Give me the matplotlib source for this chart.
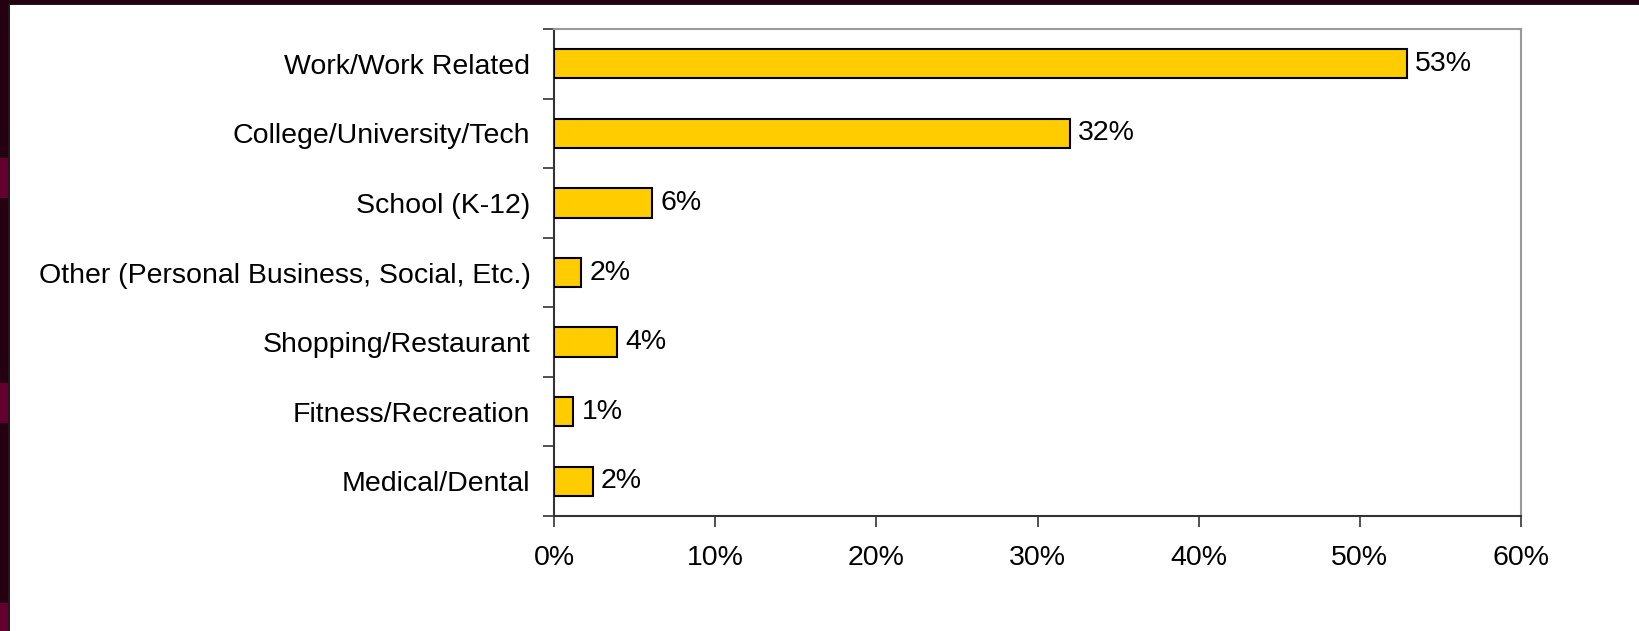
import matplotlib.pyplot as plt
from matplotlib.patches import Rectangle
from matplotlib.ticker import FuncFormatter, FixedLocator

categories = ['Work/Work Related', 'College/University/Tech', 'School (K-12)',
              'Other (Personal Business, Social, Etc.)', 'Shopping/Restaurant',
              'Fitness/Recreation', 'Medical/Dental']
values = [52.9, 32.0, 6.1, 1.7, 3.9, 1.2, 2.4]
labels = ['53%', '32%', '6%', '2%', '4%', '1%', '2%']

plt.rcParams['font.family'] = ['Liberation Sans', 'DejaVu Sans']

W, H = 1640, 631
fig = plt.figure(figsize=(W / 100, H / 100), dpi=100)
fig.patch.set_facecolor('#240010')

# white slide panel and decorative strip
fig.patches.append(Rectangle((8 / W, 0), 1, (H - 4) / H, transform=fig.transFigure,
                             facecolor='#1c1c1c', edgecolor='none', zorder=-10))
fig.patches.append(Rectangle((10 / W, 0), 1, (H - 5) / H, transform=fig.transFigure,
                             facecolor='white', edgecolor='none', zorder=-9))
for y0, y1 in [(158, 198), (383, 423), (603, 631)]:
    fig.patches.append(Rectangle((0, 1 - y1 / H), 8 / W, (y1 - y0) / H,
                                 transform=fig.transFigure, facecolor='#62002e',
                                 edgecolor='none', zorder=-9))

ax = fig.add_axes([554 / W, 1 - 516 / H, (1521 - 554) / W, (516 - 29) / H])
ax.set_facecolor('white')

fs = 20.5
n = len(categories)
pos = list(range(n))
ax.barh(pos, values, height=0.42, color='#ffcc00', edgecolor='black', linewidth=1.5, zorder=3)
for p, v, t in zip(pos, values, labels):
    ax.text(v + 0.5, p, t, va='center', ha='left', fontsize=fs, color='black')

ax.set_xlim(0, 60)
ax.set_ylim(n - 0.5, -0.5)
ax.set_xticks(range(0, 61, 10))
ax.xaxis.set_major_formatter(FuncFormatter(lambda x, _: f'{x:.0f}%'))
ax.set_yticks(pos)
ax.set_yticklabels(categories)
ax.yaxis.set_minor_locator(FixedLocator([i - 0.5 for i in range(n + 1)]))
ax.tick_params(axis='y', which='major', length=0, pad=17, labelsize=fs)
ax.tick_params(axis='y', which='minor', length=8, width=1.2, color='#333333')
ax.tick_params(axis='x', length=8, width=1.2, color='#333333', pad=13, labelsize=fs)

for s in ['left', 'bottom']:
    ax.spines[s].set_color('#333333')
    ax.spines[s].set_linewidth(1.5)
for s in ['top', 'right']:
    ax.spines[s].set_color('#999999')
    ax.spines[s].set_linewidth(1.5)

fig.savefig('out.png', dpi=100, facecolor=fig.get_facecolor())
